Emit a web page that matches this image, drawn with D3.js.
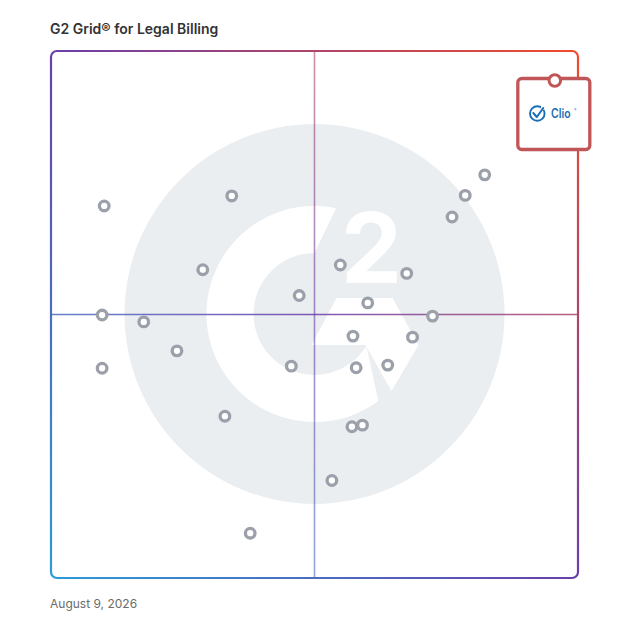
<!DOCTYPE html>
<html lang="en">
<head>
	<meta charset="UTF-8">
	<title>G2 Grid for Legal Billing</title>
	<style>
		body{ margin:0; background:#fff; }
		text{ font-family: Inter, "Noto Sans", sans-serif; }
	</style>
</head>
<body>
	<script src="https://d3js.org/d3.v7.min.js"></script>
	<script>
		var width = 628;
		var height = 628;

		// product scores, 0-100 on both axes
		var products = ['Clio','P1','P2','P3','P4','P5','P6','P7','P8','P9','P10','P11','P12','P13','P14','P15','P16','P17','P18','P19','P20','P21','P22','P23','P24','P25'];
		var satisfaction = [95.6, 10.1, 34.3, 28.8, 47.1, 54.9, 67.5, 60.1, 76.1, 78.6, 82.3, 72.4, 68.6, 57.3, 57.9, 63.9, 45.6, 9.7, 17.6, 23.9, 9.7, 33.0, 57.1, 59.1, 53.3, 37.8];
		var presence     = [94.4, 70.6, 72.5, 58.5, 53.6, 59.4, 57.8, 52.2, 68.5, 72.6, 76.5, 49.7, 45.7, 45.9, 39.9, 40.4, 40.2, 49.9, 48.6, 43.1, 39.8, 30.7, 28.7, 29.0, 18.5, 8.5];
		var labelled = ['Clio'];

		var x = d3.scaleLinear().domain([0,100]).range([51,578]);
		var y = d3.scaleLinear().domain([0,100]).range([578,51]);

		var svg = d3.select('body')
					.append('svg')
					.attr('width',width)
					.attr('height',height);

		var defs = svg.append('defs');
		var grad = defs.append('linearGradient')
			.attr('id','frame')
			.attr('gradientUnits','userSpaceOnUse')
			.attr('x1',x(0)).attr('y1',y(0))
			.attr('x2',x(100)).attr('y2',y(100));
		grad.append('stop').attr('offset','0%').attr('stop-color','#2a9bd9');
		grad.append('stop').attr('offset','50%').attr('stop-color','#6a3faa');
		grad.append('stop').attr('offset','100%').attr('stop-color','#f24b2a');

		// title + date
		svg.append('text').attr('x',50).attr('y',34)
			.attr('font-size',14).attr('font-weight',600).attr('fill','#333')
			.text('G2 Grid® for Legal Billing');
		svg.append('text').attr('x',50).attr('y',608)
			.attr('font-size',12).attr('fill','#6b6b6b')
			.text('August 9, 2026');

		// watermark logo
		var cx = x(50), cy = y(50) - 0.5;
		var wm = svg.append('g').attr('transform','translate('+cx+','+cy+')');
		wm.append('circle').attr('r',190).attr('fill','#ebeef1');

		var R = 108, r = 61;
		var a0 = Math.atan2(-106.7,21.7), a1 = Math.atan2(88.7,65);
		var b0 = Math.atan2(31.3,50.7), b1 = -Math.PI/2;
		var c = d3.path();
		c.moveTo(R*Math.cos(a0), R*Math.sin(a0));
		c.arc(0,0,R,a0,a1,true);
		c.lineTo(r*Math.cos(b0), r*Math.sin(b0));
		c.arc(0,0,r,b0,b1,false);
		c.closePath();
		wm.append('path').attr('d',c.toString()).attr('fill','#fff');

		// chevron
		var ch = d3.path();
		ch.moveTo(22,-16); ch.lineTo(78,-16); ch.lineTo(104,31);
		ch.lineTo(77,77); ch.lineTo(51,31); ch.lineTo(-3,31); ch.closePath();
		wm.append('path').attr('d',ch.toString()).attr('fill','#fff');

		wm.append('text').attr('x',57).attr('y',-31)
			.attr('text-anchor','middle')
			.attr('font-family','Roboto, sans-serif')
			.attr('font-size',97).attr('font-weight',700)
			.attr('fill','#fff')
			.text('2');

		// quadrant lines
		svg.append('line')
			.attr('x1',x(0)).attr('x2',x(100)).attr('y1',y(50)).attr('y2',y(50))
			.attr('stroke','url(#frame)').attr('stroke-width',1.6).attr('opacity',0.85);
		svg.append('line')
			.attr('x1',x(50)).attr('x2',x(50)).attr('y1',y(0)).attr('y2',y(100))
			.attr('stroke','url(#frame)').attr('stroke-width',1.6).attr('opacity',0.6);

		// frame
		svg.append('rect')
			.attr('x',x(0)).attr('y',y(100))
			.attr('width',x(100)-x(0)).attr('height',y(0)-y(100))
			.attr('rx',6)
			.attr('fill','none')
			.attr('stroke','url(#frame)')
			.attr('stroke-width',2.2);

		var data = products.map(function(p,i){
			return {name:p, sx:satisfaction[i], my:presence[i]};
		});

		// label boxes
		var boxes = svg.selectAll('g.label')
			.data(data.filter(function(d){ return labelled.indexOf(d.name) >= 0; }))
			.enter()
			.append('g')
			.attr('class','label')
			.attr('transform',function(d){ return 'translate('+x(d.sx)+','+y(d.my)+')'; });
		boxes.append('rect')
			.attr('x',-37).attr('y',-2).attr('width',72).attr('height',71).attr('rx',4)
			.attr('fill','#fff').attr('stroke','#c05658').attr('stroke-width',3.3);
		boxes.append('circle')
			.attr('cx',-17.5).attr('cy',33).attr('r',7.3)
			.attr('fill','none').attr('stroke','#1a6db5').attr('stroke-width',1.9);
		boxes.append('circle')
			.attr('cx',-11.5).attr('cy',27).attr('r',2.4).attr('fill','#fff');
		boxes.append('path')
			.attr('d','M-21.5,32.5 L-18,36.5 L-11.5,27.5')
			.attr('fill','none').attr('stroke','#1a6db5').attr('stroke-width',2)
			.attr('stroke-linecap','round').attr('stroke-linejoin','round');
		boxes.append('text')
			.attr('x',-3.8).attr('y',37.5)
			.attr('font-size',12.5).attr('font-weight',600).attr('fill','#1a6db5')
			.attr('textLength',19.5).attr('lengthAdjust','spacingAndGlyphs')
			.text(function(d){ return d.name; });
		boxes.append('text')
			.attr('x',19.5).attr('y',30.5)
			.attr('font-size',3).attr('fill','#1a6db5')
			.text('®');

		// dots
		svg.selectAll('circle.dot')
			.data(data)
			.enter()
			.append('circle')
			.attr('class','dot')
			.attr('cx',function(d){ return x(d.sx); })
			.attr('cy',function(d){ return y(d.my); })
			.attr('r',function(d){ return labelled.indexOf(d.name) >= 0 ? 5.8 : 4.8; })
			.attr('fill','#fff')
			.attr('stroke',function(d){ return labelled.indexOf(d.name) >= 0 ? '#c05658' : '#9ba0aa'; })
			.attr('stroke-width',function(d){ return labelled.indexOf(d.name) >= 0 ? 3 : 3.3; });
	</script>
</body>
</html>
